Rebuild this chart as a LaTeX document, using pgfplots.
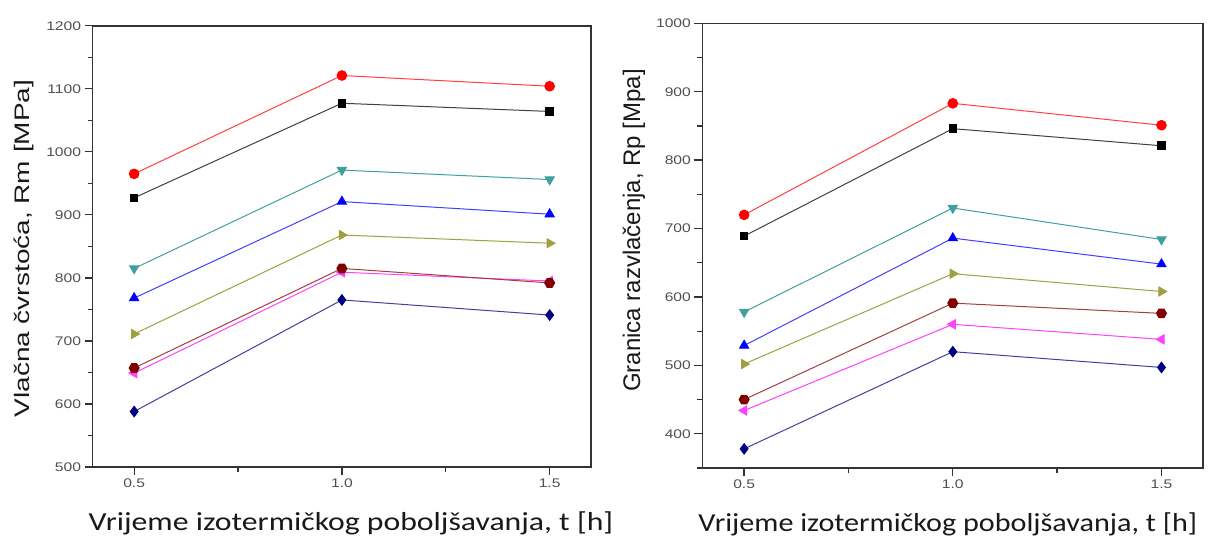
\documentclass[border=0pt]{standalone}
\usepackage{fontspec}
\setmainfont{Liberation Sans}
\newfontfamily\calib{Carlito}
\usepackage{pgfplots}
\pgfplotsset{compat=1.18}
\definecolor{cteal}{HTML}{008080}
\definecolor{cblue}{HTML}{0000FF}
\definecolor{colive}{HTML}{808000}
\definecolor{cwine}{HTML}{800000}
\definecolor{cmag}{HTML}{FF00FF}
\definecolor{cnavy}{HTML}{000080}
\definecolor{cred}{HTML}{FF0000}
\definecolor{axgray}{HTML}{333333}
\definecolor{tkgray}{HTML}{505050}
\pgfdeclareplotmark{hexagon*}{%
  \pgfpathmoveto{\pgfqpointpolar{0}{\pgfplotmarksize}}%
  \pgfpathlineto{\pgfqpointpolar{60}{\pgfplotmarksize}}%
  \pgfpathlineto{\pgfqpointpolar{120}{\pgfplotmarksize}}%
  \pgfpathlineto{\pgfqpointpolar{180}{\pgfplotmarksize}}%
  \pgfpathlineto{\pgfqpointpolar{240}{\pgfplotmarksize}}%
  \pgfpathlineto{\pgfqpointpolar{300}{\pgfplotmarksize}}%
  \pgfpathclose\pgfusepathqfillstroke}
\pgfplotsset{
  mystyle/.style={
    scale only axis,
    anchor=south west,
    xmin=0.4, xmax=1.6,
    xtick={0.5,1.0,1.5},
    minor xtick={0.75,1.25},
    minor y tick num=1,
    tick pos=left,
    tick align=outside,
    major tick length=8pt,
    minor tick length=5pt,
    axis line style={axgray, line width=1.6pt},
    every tick/.style={axgray, line width=1.3pt},
    /pgf/number format/assume math mode=true,
    /pgf/number format/1000 sep={},
    tick label style={font=\fontsize{12.5}{14}\selectfont, text=tkgray},
    xticklabel={\scalebox{1.25}[1]{\pgfmathprintnumber[fixed,fixed zerofill,precision=1]{\tick}}},
    yticklabel={\scalebox{1.25}[1]{\pgfmathprintnumber[fixed,precision=0,1000 sep={}]{\tick}}},
    xlabel style={font=\calib\fontsize{26}{30}\selectfont, anchor=base, text=black!90},
    ylabel style={font=\fontsize{28}{32}\selectfont, anchor=center, text=black!90},
  },
  ser/.style={color=#1!75!white, line width=1pt, mark options={fill=#1, draw=#1, solid}},
}
\begin{document}
\begin{tikzpicture}
\useasboundingbox (0,0) rectangle (1214pt,539pt);
% Left panel
\begin{axis}[mystyle,
  at={(92.6pt,72pt)}, width=498.6pt, height=441.3pt,
  ymin=500, ymax=1200, ytick={500,600,...,1200},
  xlabel={\scalebox{1.22}[1]{Vrijeme izotermičkog poboljšavanja, t [h]}},
  xlabel style={at={(axis description cs:0.518,-0.1428)}},
  ylabel={\scalebox{1}[0.75]{Vlačna čvrstoća, Rm [MPa]}},
  ylabel style={at={(axis description cs:-0.1376,0.495)}},
]
\addplot[ser=cred, mark=*, mark size=4.8pt] coordinates {(0.5,965) (1.0,1121) (1.5,1104)};
\addplot[ser=black, mark=square*, mark size=3.8pt] coordinates {(0.5,927) (1.0,1077) (1.5,1064)};
\addplot[ser=cteal, mark=triangle*, mark size=5.2pt, mark options={rotate=180}] coordinates {(0.5,815) (1.0,971) (1.5,956)};
\addplot[ser=cblue, mark=triangle*, mark size=5.2pt] coordinates {(0.5,768) (1.0,921) (1.5,901)};
\addplot[ser=colive, mark=triangle*, mark size=5.2pt, mark options={rotate=-90}] coordinates {(0.5,711) (1.0,868) (1.5,855)};
\addplot[ser=cmag, mark=triangle*, mark size=5.2pt, mark options={rotate=90}] coordinates {(0.5,649) (1.0,809) (1.5,795)};
\addplot[ser=cwine, mark=hexagon*, mark size=5pt] coordinates {(0.5,657) (1.0,815) (1.5,792)};
\addplot[ser=cnavy, mark=diamond*, mark size=5.2pt] coordinates {(0.5,588) (1.0,765) (1.5,741)};
\end{axis}
% Right panel
\begin{axis}[mystyle,
  at={(702.4pt,71pt)}, width=500.8pt, height=444.7pt,
  ymin=350, ymax=1000, ytick={400,500,...,1000}, minor ytick={350,450,...,950},
  xlabel={\scalebox{1.16}[1]{Vrijeme izotermičkog poboljšavanja, t [h]}},
  xlabel style={at={(axis description cs:0.490,-0.1417)}},
  ylabel={Granica razvlačenja, Rp [Mpa]},
  ylabel style={at={(axis description cs:-0.1366,0.534)}, font=\fontsize{24}{28}\selectfont},
]
\addplot[ser=cred, mark=*, mark size=4.8pt] coordinates {(0.5,720) (1.0,883) (1.5,851)};
\addplot[ser=black, mark=square*, mark size=3.8pt] coordinates {(0.5,689) (1.0,846) (1.5,821)};
\addplot[ser=cteal, mark=triangle*, mark size=5.2pt, mark options={rotate=180}] coordinates {(0.5,578) (1.0,730) (1.5,684)};
\addplot[ser=cblue, mark=triangle*, mark size=5.2pt] coordinates {(0.5,529) (1.0,686) (1.5,648)};
\addplot[ser=colive, mark=triangle*, mark size=5.2pt, mark options={rotate=-90}] coordinates {(0.5,502) (1.0,634) (1.5,608)};
\addplot[ser=cwine, mark=hexagon*, mark size=5pt] coordinates {(0.5,450) (1.0,591) (1.5,576)};
\addplot[ser=cmag, mark=triangle*, mark size=5.2pt, mark options={rotate=90}] coordinates {(0.5,434) (1.0,560) (1.5,538)};
\addplot[ser=cnavy, mark=diamond*, mark size=5.2pt] coordinates {(0.5,378) (1.0,520) (1.5,497)};
\end{axis}
\end{tikzpicture}
\end{document}
